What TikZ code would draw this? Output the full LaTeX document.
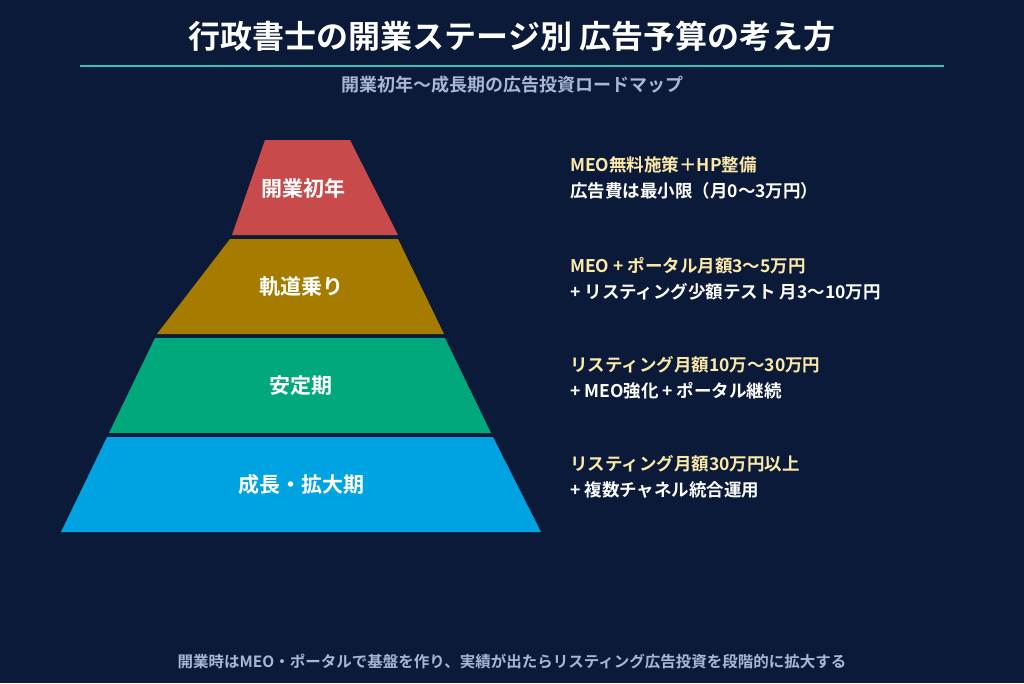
\documentclass[tikz,border=0pt]{standalone}
\usepackage{fontspec}
\setmainfont{Noto Sans CJK JP}[BoldFont={Noto Sans CJK JP Bold}]
\usetikzlibrary{positioning}
\definecolor{bgnavy}{HTML}{0B1A38}
\definecolor{tealline}{HTML}{2EC4C4}
\definecolor{subgray}{HTML}{A9B7D6}
\definecolor{noteyellow}{HTML}{FCE9A8}
\definecolor{stagered}{HTML}{C94A4A}
\definecolor{stageolive}{HTML}{A67C00}
\definecolor{stagegreen}{HTML}{00A87C}
\definecolor{stageblue}{HTML}{00A3E2}

\begin{document}
\begin{tikzpicture}[x=1pt,y=-1pt,
		stagelabel/.style={text=white,font=\fontsize{21}{24}\selectfont\bfseries},
		noteline/.style={anchor=west,inner sep=0pt,font=\fontsize{17.5}{20}\selectfont\bfseries}]
	
	\fill[bgnavy] (0,0) rectangle (1024,683);
	\useasboundingbox (0,0) rectangle (1024,683);
	
	\node[text=white,font=\fontsize{32}{36}\selectfont\bfseries] (title) at (512,36) {行政書士の開業ステージ別 広告予算の考え方};
	\coordinate (ruleL) at (80,66);
	\coordinate (ruleR) at (944,66);
	\draw[tealline,line width=1.5pt] (ruleL) -- (ruleR);
	\node[text=subgray,font=\fontsize{18}{21}\selectfont\bfseries] (subtitle) at (512,85) {開業初年〜成長期の広告投資ロードマップ};
	
	% pyramid bands
	\fill[stagered]   (265,140) -- (350,140) -- (398,235) -- (232,235) -- cycle;
	\fill[stageolive] (230,239) -- (398,239) -- (444,334) -- (157,334) -- cycle;
	\fill[stagegreen] (155,338) -- (445,338) -- (491,433) -- (109,433) -- cycle;
	\fill[stageblue]  (107,437) -- (493,437) -- (541,532) -- (61,532) -- cycle;
	
	\node[stagelabel] (s1) at (303,188) {開業初年};
	\node[stagelabel] (s2) at (301,287) {軌道乗り};
	\node[stagelabel] (s3) at (301,386) {安定期};
	\node[stagelabel] (s4) at (301,485) {成長・拡大期};
	
	% notes
	\node[noteline,text=noteyellow] (n1a) at (570,165) {MEO無料施策＋HP整備};
	\node[noteline,text=white]      (n1b) at (570,191) {広告費は最小限（月0〜3万円）};
	\node[noteline,text=noteyellow] (n2a) at (570,266) {MEO + ポータル月額3〜5万円};
	\node[noteline,text=white]      (n2b) at (570,292) {+ リスティング少額テスト 月3〜10万円};
	\node[noteline,text=noteyellow] (n3a) at (570,365) {リスティング月額10万〜30万円};
	\node[noteline,text=white]      (n3b) at (570,391) {+ MEO強化 + ポータル継続};
	\node[noteline,text=noteyellow] (n4a) at (570,464) {リスティング月額30万円以上};
	\node[noteline,text=white]      (n4b) at (570,490) {+ 複数チャネル統合運用};
	
	\node[text=subgray,font=\fontsize{15.5}{18}\selectfont\bfseries] (footer) at (512,662) {開業時はMEO・ポータルで基盤を作り、実績が出たらリスティング広告投資を段階的に拡大する};
\end{tikzpicture}
\end{document}
